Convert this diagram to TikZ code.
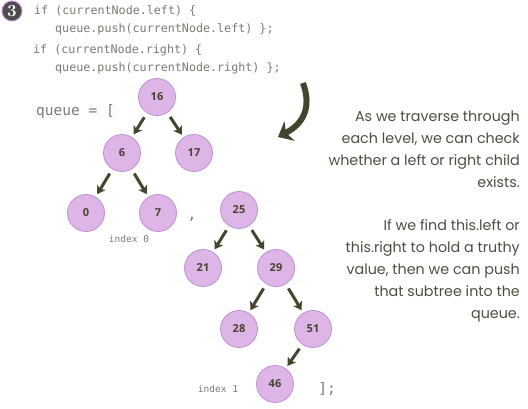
\documentclass[tikz,border=0pt]{standalone}
\usepackage{fontspec}
\setsansfont{Poppins}
\setmonofont{DejaVu Sans Mono}
\newfontfamily\keyfont{Open Sans}
\usetikzlibrary{arrows.meta,positioning}
\definecolor{bfsink}{HTML}{45452F}
\definecolor{bfstext}{HTML}{4E4E40}
\definecolor{bfscode}{HTML}{7A7A70}
\definecolor{bfsfill}{HTML}{DDB6E7}
\definecolor{bfsline}{HTML}{C08FD3}
\definecolor{bfsbadge}{HTML}{4F4A4C}
\tikzset{
  >={Stealth[length=8pt,width=10pt,inset=2pt]},
  code/.style={font=\ttfamily\fontsize{11.7}{14}\selectfont,text=bfscode,
               inner sep=0pt,anchor=west},
  bracket/.style={font=\ttfamily\fontsize{14.5}{16}\selectfont,text=bfscode,
                  inner sep=0pt},
  idx/.style={font=\ttfamily\fontsize{9.5}{11}\selectfont,text=bfscode,inner sep=0pt},
  key/.style={circle,draw=bfsline,line width=0.8pt,fill=bfsfill,minimum size=37pt,
              inner sep=0pt,font=\keyfont\bfseries\fontsize{11}{13}\selectfont,
              text=bfsink},
  child/.style={->,line width=3pt,draw=bfsink,shorten <=5pt,shorten >=3pt},
  badge/.style={circle,draw=bfsline,line width=1pt,fill=bfsbadge,minimum size=20pt,
                inner sep=0pt,text=white,font=\rmfamily\bfseries\fontsize{17}{17}\selectfont},
  note/.style={font=\sffamily\fontsize{14.3}{22}\selectfont,text=bfstext,
               align=right,inner sep=0pt},
}
\begin{document}
\begin{tikzpicture}[x=1pt,y=-1pt]
  \useasboundingbox (0,0) rectangle (528,408);

  \node[badge] (three) at (12,11) {3};
  \node[code] (c1) at (34,11) {if (currentNode.left) \{};
  \node[code] (c2) at (55,29) {queue.push(currentNode.left) \};};
  \node[code] (c3) at (33,50) {if (currentNode.right) \{};
  \node[code] (c4) at (55,68) {queue.push(currentNode.right) \};};

  \node[bracket,anchor=west] (qopen) at (36,112) {queue = [};
  \node[bracket] (qsep) at (192,219) {,};
  \node[bracket] (qclose) at (327,389) {];};
  \node[idx] (idx0) at (129,239) {index 0};
  \node[idx] (idx1) at (218,389) {index 1};

  % first subtree
  \node[key] (n16) at (157,97) {16};
  \node[key] (n6) at (122,153) {6};
  \node[key] (n17) at (194,153) {17};
  \node[key] (n0) at (86,213) {0};
  \node[key] (n7) at (158,213) {7};

  % second subtree
  \node[key] (n25) at (239,210) {25};
  \node[key] (n21) at (203,268) {21};
  \node[key] (n29) at (276,268) {29};
  \node[key] (n28) at (239,329) {28};
  \node[key] (n51) at (313,329) {51};
  \node[key] (n46) at (275,384) {46};

  \draw[child] (n16) -- (n6);
  \draw[child] (n16) -- (n17);
  \draw[child] (n6) -- (n0);
  \draw[child] (n6) -- (n7);
  \draw[child] (n25) -- (n21);
  \draw[child] (n25) -- (n29);
  \draw[child] (n29) -- (n28);
  \draw[child] (n29) -- (n51);
  \draw[child] (n51) -- (n46);

  \coordinate (turn) at (303,83);
  \coordinate (tip) at (278,137);
  \draw[bfsink,line width=6pt,-{Stealth[length=13pt,width=22pt,inset=4pt]}]
    (turn) .. controls (312,108) and (303,124) .. (tip);

  \node[note,anchor=north east] (explain) at (520,111)
    {As we traverse through\\each level, we can check\\whether a left or right child\\exists.\\[21pt]
     If we find this.left or\\this.right to hold a truthy\\value, then we can push\\that subtree into the\\queue.};
\end{tikzpicture}
\end{document}
